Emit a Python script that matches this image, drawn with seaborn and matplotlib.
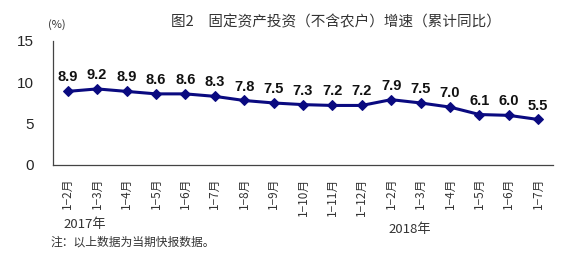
import matplotlib
matplotlib.use("Agg")
import matplotlib.pyplot as plt
import seaborn as sns
import pandas as pd
import numpy as np

categories = ["1−2月", "1−3月", "1−4月", "1−5月", "1−6月", "1−7月", "1−8月", "1−9月",
              "1−10月", "1−11月", "1−12月",
              "1−2月", "1−3月", "1−4月", "1−5月", "1−6月", "1−7月"]
values = [8.9, 9.2, 8.9, 8.6, 8.6, 8.3, 7.8, 7.5, 7.3, 7.2, 7.2, 7.9, 7.5, 7.0, 6.1, 6.0, 5.5]
yticks = [0, 5, 10, 15]
title = "图2　固定资产投资（不含农户）增速（累计同比）"
year_labels = ["2017年", "2018年"]
note = "注：以上数据为当期快报数据。"

sns.set_style("white")
plt.rcParams['font.family'] = ['Noto Sans CJK SC', 'DejaVu Sans']
plt.rcParams['axes.unicode_minus'] = False

df = pd.DataFrame({"idx": np.arange(len(values)), "value": values})

fig = plt.figure(figsize=(5.76, 2.61), dpi=100)
ax = fig.add_axes([0.092, 0.368, 0.868, 0.475])

color = "#0a0a80"
sns.lineplot(data=df, x="idx", y="value", ax=ax, color=color, linewidth=2.2,
             marker="D", markersize=5.5, markeredgecolor=color, markerfacecolor=color)

for i, v in enumerate(values):
    ax.annotate(f"{v:.1f}", (i, v), xytext=(0, 5), textcoords="offset points",
                ha="center", va="bottom", fontsize=10.5, fontweight="bold",
                family=['Liberation Sans'], color="#111111")

ax.set_xlim(-0.5, len(values) - 0.5)
ax.set_ylim(0, 15)
ax.set_yticks(yticks)
ax.set_yticklabels([str(t) for t in yticks], fontsize=11, family=['Liberation Sans'])
ax.set_xticks(np.arange(len(values)))
ax.set_xticklabels(categories, rotation=90, fontsize=8.5, color="#333333")
ax.set_xticks(np.arange(len(values) + 1) - 0.5, minor=True)
ax.tick_params(axis="x", which="major", length=0, pad=9)
ax.tick_params(axis="x", which="minor", direction="in", length=3, color="#333333")
ax.tick_params(axis="y", direction="in", length=3, color="#333333", pad=14)
ax.set_xlabel("")
ax.set_ylabel("")

for s in ["top", "right"]:
    ax.spines[s].set_visible(False)
for s in ["left", "bottom"]:
    ax.spines[s].set_color("#444444")
    ax.spines[s].set_linewidth(0.9)

fig.text(0.583, 0.915, title, ha="center", va="center", fontsize=10.5, color="#333333")
fig.text(0.098, 0.905, "(%)", ha="center", va="center", fontsize=8, color="#333333")
fig.text(0.148, 0.14, year_labels[0], ha="center", va="center", fontsize=9.5, color="#333333")
fig.text(0.712, 0.122, year_labels[1], ha="center", va="center", fontsize=9.5, color="#333333")
fig.text(0.087, 0.072, note, ha="left", va="center", fontsize=8.5, color="#333333")

fig.savefig("out.png", dpi=100)
